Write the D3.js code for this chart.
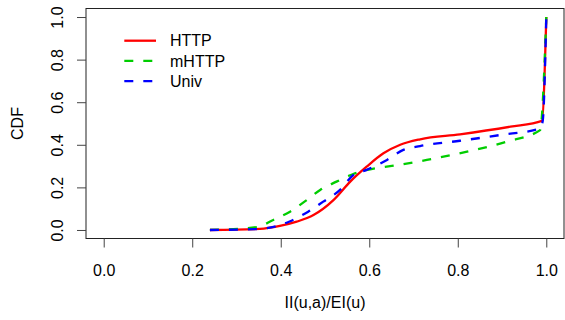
<!DOCTYPE html>
<html>
<head>
<meta charset="utf-8">
<script src="https://cdn.jsdelivr.net/npm/d3@7"></script>
<style>
  body { margin: 0; background: #fff; }
  text { font-family: "Liberation Sans", Arial, sans-serif; fill: #000; }
</style>
</head>
<body>
<div id="chart"></div>
<script>
// values
var httpX  = [0.24, 0.353, 0.398, 0.436, 0.474, 0.519, 0.557, 0.594, 0.632, 0.67, 0.715, 0.805, 0.919, 0.99, 1.0];
var httpY  = [0.0, 0.005, 0.019, 0.039, 0.07, 0.14, 0.227, 0.297, 0.36, 0.40, 0.426, 0.449, 0.485, 0.512, 1.0];
var mhttpX = [0.24, 0.345, 0.383, 0.421, 0.459, 0.489, 0.526, 0.564, 0.602, 0.655, 0.73, 0.821, 0.911, 0.986, 1.0];
var mhttpY = [0.0, 0.013, 0.047, 0.086, 0.141, 0.188, 0.227, 0.263, 0.285, 0.302, 0.329, 0.368, 0.415, 0.469, 1.0];
var univX  = [0.24, 0.353, 0.42, 0.462, 0.496, 0.534, 0.564, 0.594, 0.64, 0.677, 0.715, 0.805, 0.896, 0.986, 0.992, 1.0];
var univY  = [0.0, 0.005, 0.04, 0.086, 0.133, 0.188, 0.258, 0.282, 0.329, 0.376, 0.394, 0.419, 0.446, 0.477, 0.513, 1.0];
var seriesNames = ["HTTP", "mHTTP", "Univ"];
var xTicks = [0, 0.2, 0.4, 0.6, 0.8, 1.0];
var yTicks = [0, 0.2, 0.4, 0.6, 0.8, 1.0];

var width = 565, height = 320;
var box = { left: 86, right: 564, top: 8.5, bottom: 238.5 };
var fontSize = 16;

// R style 4% padding on both axes
var x = d3.scaleLinear().domain([-0.04, 1.04]).range([box.left, box.right]);
var y = d3.scaleLinear().domain([-0.04, 1.04]).range([box.bottom, box.top]);

var svg = d3.select("#chart").append("svg")
  .attr("width", width).attr("height", height);

var series = [
  { name: seriesNames[0], xs: httpX, ys: httpY, color: "#ff0000", dash: null },
  { name: seriesNames[1], xs: mhttpX, ys: mhttpY, color: "#00cd00", dash: "9,10" },
  { name: seriesNames[2], xs: univX, ys: univY, color: "#0000ff", dash: "9,10" }
];

var line = d3.line()
  .curve(d3.curveMonotoneX)
  .x(function (d) { return x(d[0]); })
  .y(function (d) { return y(d[1]); });

// draw in R order: later series on top
series.forEach(function (s) {
  var pts = s.xs.map(function (v, i) { return [v, s.ys[i]]; });
  svg.append("path")
    .attr("d", line(pts))
    .attr("fill", "none")
    .attr("stroke", s.color)
    .attr("stroke-width", 2.3)
    .attr("stroke-dasharray", s.dash)
    .attr("stroke-linejoin", "round");
});

// box
svg.append("rect")
  .attr("x", box.left).attr("y", box.top)
  .attr("width", box.right - box.left).attr("height", box.bottom - box.top)
  .attr("fill", "none").attr("stroke", "#222").attr("stroke-width", 1);

// x axis
var xAxis = d3.axisBottom(x).tickValues(xTicks).tickSize(9).tickPadding(12)
  .tickFormat(d3.format(".1f"));
var gx = svg.append("g").attr("transform", "translate(0," + box.bottom + ")").call(xAxis);
gx.select(".domain").remove();
gx.selectAll("line").attr("stroke", "#444");
gx.selectAll("text")
  .attr("y", 31.5).attr("dy", "0.35em")
  .attr("font-size", fontSize).style("font-family", "Liberation Sans, Arial, sans-serif").attr("fill", "#000");

// y axis
var yAxis = d3.axisLeft(y).tickValues(yTicks).tickSize(9).tickFormat(d3.format(".1f"));
var gy = svg.append("g").attr("transform", "translate(" + box.left + ",0)").call(yAxis);
gy.select(".domain").remove();
gy.selectAll("line").attr("stroke", "#444");
gy.selectAll("text")
  .attr("x", null).attr("dy", null)
  .attr("font-size", fontSize).style("font-family", "Liberation Sans, Arial, sans-serif").attr("fill", "#000")
  .attr("text-anchor", "middle")
  .attr("transform", "translate(-29,0) rotate(-90)")
  .attr("dy", "0.35em");

// axis titles
svg.append("text")
  .attr("x", (box.left + box.right) / 2).attr("y", 302).attr("dy", "0.35em")
  .attr("text-anchor", "middle").attr("font-size", fontSize)
  .text("II(u,a)/EI(u)");

svg.append("text")
  .attr("transform", "translate(17," + ((box.top + box.bottom) / 2) + ") rotate(-90)")
  .attr("text-anchor", "middle").attr("dy", "0.35em").attr("font-size", fontSize)
  .text("CDF");

// legend
var legend = svg.append("g");
series.forEach(function (s, i) {
  var ly = 40.7 + i * 20.2;
  legend.append("line")
    .attr("x1", 124.3).attr("x2", 156).attr("y1", ly).attr("y2", ly)
    .attr("stroke", s.color).attr("stroke-width", 2.3)
    .attr("stroke-dasharray", s.dash);
  legend.append("text")
    .attr("x", 170).attr("y", ly).attr("dy", "0.36em")
    .attr("font-size", fontSize)
    .text(s.name);
});
</script>
</body>
</html>
